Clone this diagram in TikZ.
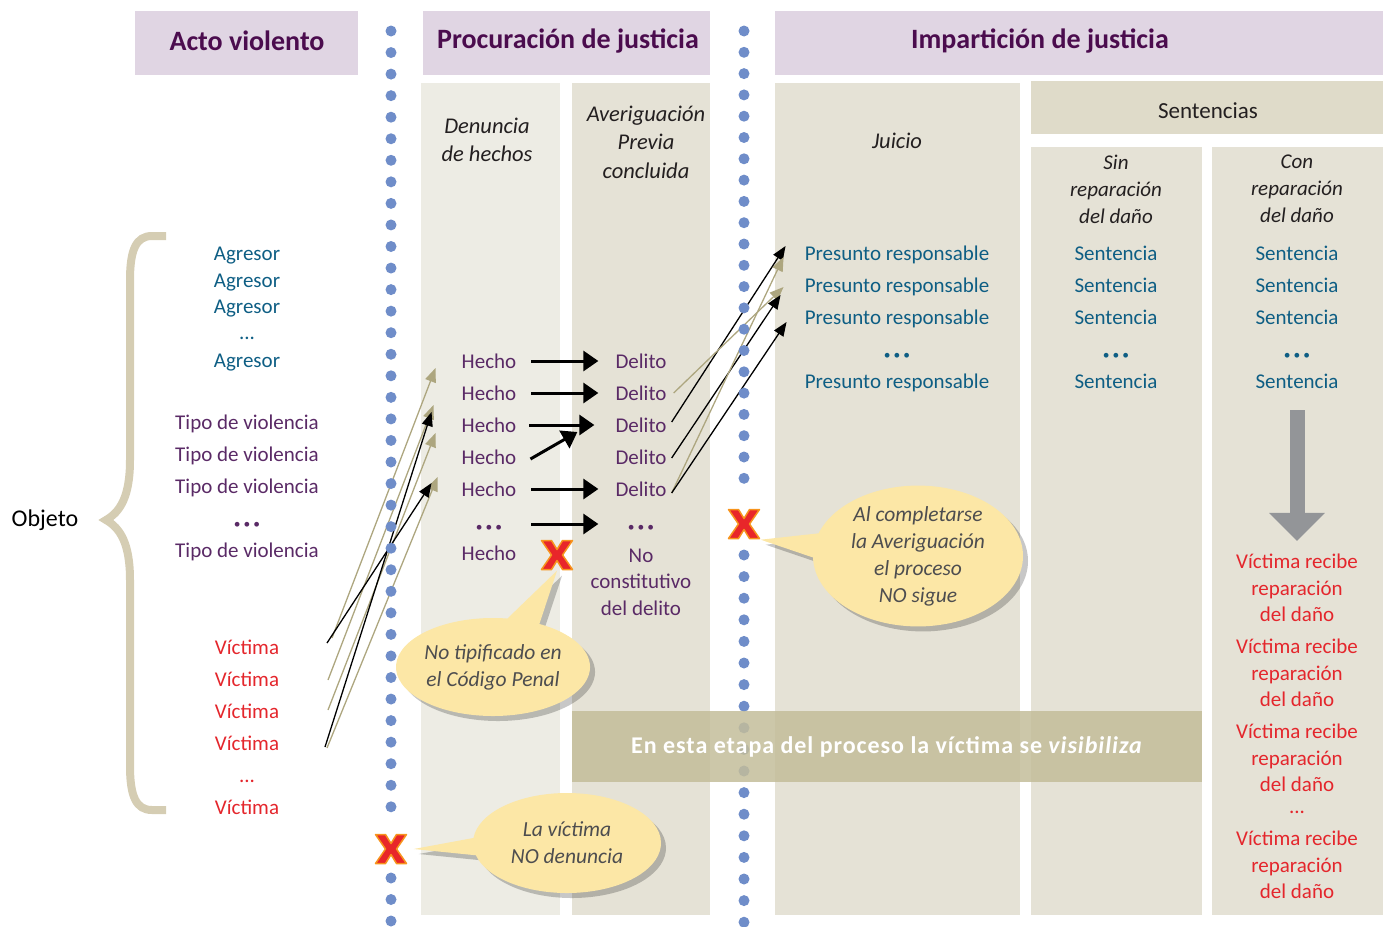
\documentclass[tikz,border=0pt]{standalone}
\usepackage{fontspec}
\setmainfont{Carlito}
\usetikzlibrary{arrows.meta,positioning,shapes.callouts,shadows}

\definecolor{headfill}{HTML}{E0D5E3}
\definecolor{headtext}{HTML}{4B0C4E}
\definecolor{denfill}{HTML}{EDECE4}
\definecolor{colfill}{HTML}{E5E2D6}
\definecolor{sentfill}{HTML}{DFDBC9}
\definecolor{dotblue}{HTML}{6F8DC9}
\definecolor{capgray}{HTML}{231F20}
\definecolor{agteal}{HTML}{0E5E84}
\definecolor{tipopurple}{HTML}{5A2A66}
\definecolor{vicred}{HTML}{E4262C}
\definecolor{tanline}{HTML}{ADA67F}
\definecolor{bracetan}{HTML}{D5CDB3}
\definecolor{bubblefill}{HTML}{FCE7A6}
\definecolor{bubbletext}{HTML}{4D4D4F}
\definecolor{bandfill}{HTML}{C3BD9A}
\definecolor{arrowgray}{HTML}{939598}
\definecolor{xred}{HTML}{E8262A}
\definecolor{xorange}{HTML}{F7941D}

\begin{document}
\begin{tikzpicture}[x=1pt, y=-1pt,
  headtxt/.style={font=\fontsize{28}{32}\selectfont\bfseries, text=headtext, inner sep=0pt},
  coltxt/.style={font=\fontsize{22.5}{28.5}\selectfont\itshape, text=capgray, align=center, inner sep=0pt},
  listtxt/.style={font=\fontsize{21}{26}\selectfont, inner sep=0pt, text height=16pt, text depth=2pt},
  agr/.style={listtxt, text=agteal},
  tipo/.style={listtxt, text=tipopurple},
  vic/.style={listtxt, text=vicred},
  dotrow/.style={font=\fontsize{13.5}{13.5}\selectfont, inner sep=0pt, text height=16pt, text depth=2pt},
  vrtxt/.style={font=\fontsize{21}{26.5}\selectfont, text=vicred, align=center, inner sep=0pt},
  pasoarrow/.style={line width=3pt, -{Triangle[length=15pt,width=20pt]}},
  linkblack/.style={line width=1.3pt, -{Triangle[length=14pt,width=11pt]}},
  linktan/.style={draw=tanline, line width=1.3pt, -{Triangle[length=14pt,width=11pt]}},
  grayarrow/.style={draw=arrowgray, line width=15pt, -{Triangle[length=28pt,width=54pt]}},
  xmark/.style={minimum width=33pt, minimum height=31pt, inner sep=0pt,
    path picture={\begin{scope}[shift={(path picture bounding box.center)}, x=1pt, y=1pt]
      \filldraw[fill=xred, draw=xorange, line width=1.5pt, line join=round]
        (-15.5,14.5) -- (-5.5,14.5) -- (0,5.5) -- (5.5,14.5) -- (15.5,14.5) -- (5.5,0) -- (15.5,-14.5) -- (5.5,-14.5)
        -- (0,-5.5) -- (-5.5,-14.5) -- (-15.5,-14.5) -- (-5.5,0) -- cycle;
    \end{scope}}},
  bubble/.style={ellipse callout, fill=bubblefill, font=\fontsize{21.5}{27}\selectfont\itshape,
    text=bubbletext, align=center, inner sep=0pt, callout pointer arc=20,
    drop shadow={shadow xshift=5pt, shadow yshift=-5pt, opacity=0.22, fill=black}}]
\useasboundingbox (0,0) rectangle (1388,926);
% Stage headers
\fill[headfill] (135,11) rectangle (358,75);
\fill[headfill] (423,11) rectangle (710,75);
\fill[headfill] (775,11) rectangle (1383,75);
\node[headtxt] (acto) at (247,41) {Acto violento};
\node[headtxt] (procu) at (568,41) {Procuración de justicia};
\node[headtxt] (impar) at (1040,41) {Impartición de justicia};
% Columns
\fill[denfill] (421,83) rectangle (560,915);
\fill[colfill] (572,83) rectangle (710,915);
\fill[colfill] (775,83) rectangle (1020,915);
\fill[sentfill] (1031,81) rectangle (1383,134);
\fill[colfill] (1031,147) rectangle (1202,915);
\fill[colfill] (1212,147) rectangle (1383,915);
\node[coltxt] (denun) at (487,140) {Denuncia\\de hechos};
\node[coltxt] (averi) at (646,142) {Averiguación\\Previa\\concluida};
\node[coltxt] (juicio) at (897,141) {Juicio};
\node[font=\fontsize{23}{28}\selectfont, text=capgray, inner sep=0pt] (senten) at (1208,111) {Sentencias};
\node[coltxt, font=\fontsize{21}{27}\selectfont\itshape] (sinrep) at (1116,189) {Sin\\reparación\\del daño};
\node[coltxt, font=\fontsize{21}{27}\selectfont\itshape] (conrep) at (1297,189) {Con\\reparación\\del daño};
% Objeto and brace
\node[font=\fontsize{24}{28}\selectfont, inner sep=0pt] (objeto) at (45,520) {Objeto};
\draw[bracetan, line width=8pt] (166,236) -- (152,236) .. controls (136,236) and (130,250) .. (130,280)
  -- (130,460) .. controls (130,497) and (120,512) .. (106,520) .. controls (120,528) and (130,543) .. (130,580)
  -- (130,766) .. controls (130,796) and (136,810) .. (152,810) -- (166,810);
% Acto violento lists
\node[agr] (ag1) at (247,253) {Agresor};
\node[agr] (ag2) at (247,280) {Agresor};
\node[agr] (ag3) at (247,306) {Agresor};
\node[agr] (agd) at (247,332) {...};
\node[agr] (ag4) at (247,360) {Agresor};
\node[tipo] (tv1) at (247,422) {Tipo de violencia};
\node[tipo] (tv2) at (247,454) {Tipo de violencia};
\node[tipo] (tv3) at (247,486) {Tipo de violencia};
\node[dotrow, text=tipopurple] (tvd) at (247,521) {•\ •\ •};
\node[tipo] (tv4) at (247,550) {Tipo de violencia};
\node[vic] (vi1) at (247,647) {Víctima};
\node[vic] (vi2) at (247,679) {Víctima};
\node[vic] (vi3) at (247,711) {Víctima};
\node[vic] (vi4) at (247,743) {Víctima};
\node[vic] (vid) at (247,775) {...};
\node[vic] (vi5) at (247,807) {Víctima};
% Hechos and delitos
\node[tipo] (he1) at (489,361) {Hecho};
\node[tipo] (he2) at (489,393) {Hecho};
\node[tipo] (he3) at (489,425) {Hecho};
\node[tipo] (he4) at (489,457) {Hecho};
\node[tipo] (he5) at (489,489) {Hecho};
\node[dotrow, text=tipopurple] (hed) at (489,524) {•\ •\ •};
\node[tipo] (he6) at (489,553) {Hecho};
\node[tipo] (de1) at (641,361) {Delito};
\node[tipo] (de2) at (641,393) {Delito};
\node[tipo] (de3) at (641,425) {Delito};
\node[tipo] (de4) at (641,457) {Delito};
\node[tipo] (de5) at (641,489) {Delito};
\node[dotrow, text=tipopurple] (ded) at (641,524) {•\ •\ •};
\node[font=\fontsize{21}{26.5}\selectfont, text=tipopurple, align=center, inner sep=0pt] (deno) at (641,582) {No\\constitutivo\\del delito};
\draw[pasoarrow, shorten <=15pt, shorten >=17pt] (he1.east) -- (de1.west);
\draw[pasoarrow, shorten <=15pt, shorten >=17pt] (he2.east) -- (de2.west);
\draw[pasoarrow, shorten <=13pt, shorten >=21pt] (he3.east) -- (de3.west);
\draw[pasoarrow] ([xshift=14pt,yshift=-2pt]he4.east) -- ([xshift=-38pt,yshift=-7pt]de3.west);
\draw[pasoarrow, shorten <=15pt, shorten >=17pt] (he5.east) -- (de5.west);
\draw[pasoarrow, shorten <=15pt, shorten >=17pt] (he5.east |- hed) -- (de5.west |- ded);
% Presuntos responsables and sentencias
\node[agr] (pr1) at (897,253) {Presunto responsable};
\node[agr] (pr2) at (897,285) {Presunto responsable};
\node[agr] (pr3) at (897,317) {Presunto responsable};
\node[dotrow, text=agteal] (prd) at (897,352) {•\ •\ •};
\node[agr] (pr4) at (897,381) {Presunto responsable};
\node[agr] (si1) at (1116,253) {Sentencia};
\node[agr] (si2) at (1116,285) {Sentencia};
\node[agr] (si3) at (1116,317) {Sentencia};
\node[dotrow, text=agteal] (sid) at (1116,352) {•\ •\ •};
\node[agr] (si4) at (1116,381) {Sentencia};
\node[agr] (co1) at (1297,253) {Sentencia};
\node[agr] (co2) at (1297,285) {Sentencia};
\node[agr] (co3) at (1297,317) {Sentencia};
\node[dotrow, text=agteal] (cod) at (1297,352) {•\ •\ •};
\node[agr] (co4) at (1297,381) {Sentencia};
\node[vrtxt] (vr1) at (1297,588) {Víctima recibe\\reparación\\del daño};
\node[vrtxt] (vr2) at (1297,673) {Víctima recibe\\reparación\\del daño};
\node[vrtxt] (vr3) at (1297,758) {Víctima recibe\\reparación\\del daño};
\node[vic] (vrd) at (1297,806) {...};
\node[vrtxt] (vr4) at (1297,865) {Víctima recibe\\reparación\\del daño};
\draw[grayarrow, shorten <=20pt, shorten >=13pt] (co4.south) -- (vr1.north);
% Victima to hecho links
\coordinate (vt1) at (332,638);
\coordinate (vt2) at (327,643);
\coordinate (vt3) at (328,680);
\coordinate (vt4) at (328,710);
\coordinate (vt5) at (325,747);
\coordinate (vt6) at (327,748);
\draw[linktan] (vt1) -- ([xshift=-26pt,yshift=-7pt]he1.west);
\draw[linktan] (vt3) -- ([xshift=-28pt,yshift=-12pt]he2.west);
\draw[linktan] (vt4) -- ([xshift=-26pt,yshift=-8pt]he3.west);
\draw[linktan] (vt6) -- ([xshift=-24pt,yshift=12pt]he5.west);
\draw[linkblack] (vt2) -- ([xshift=-30pt,yshift=6pt]he5.west);
\draw[linkblack] (vt5) -- ([xshift=-30pt,yshift=-19pt]he2.west);
% Delito to presunto responsable links
\draw[linkblack] ([xshift=5pt,yshift=3pt]de3.east) -- ([xshift=-19pt,yshift=7pt]pr1.west);
\draw[linktan] ([xshift=7pt]de2.east) -- ([xshift=-21pt,yshift=-2pt]pr2.west);
\draw[linkblack] ([xshift=5pt,yshift=-1pt]de4.east) -- ([xshift=-24pt,yshift=-10pt]pr2.west);
\draw[linktan] ([xshift=5pt,yshift=-4pt]de5.east) -- ([xshift=-21pt,yshift=-4pt]pr1.west);
\draw[linkblack] ([xshift=5pt,yshift=-4pt]de5.east) -- ([xshift=-18pt,yshift=-5pt]pr3.west);
% Dotted stage separators
\foreach \k in {0,...,36} \fill[dotblue] (391,31+21.55*\k) circle (5.5pt);
\foreach \k in {0,...,2} \fill[dotblue] (391,878+21.5*\k) circle (5.5pt);
\foreach \k in {0,...,21} \fill[dotblue] (744,31+21.3*\k) circle (5.5pt);
\foreach \k in {0,...,17} \fill[dotblue] (744,555+21.6*\k) circle (5.5pt);
% Visibility band
\fill[bandfill, fill opacity=0.85] (572,711) rectangle (1202,782);
\node[font=\fontsize{24}{28}\selectfont\bfseries\addfontfeatures{LetterSpace=4}, text=white, inner sep=0pt] (banda) at (887,747)
  {En esta etapa del proceso la víctima se \textit{visibiliza}};
% Break points and callouts
\node[xmark] (x1) at (391,849) {};
\node[xmark] (x2) at (557,555) {};
\node[xmark] (x3) at (744,524) {};
\node[bubble, minimum width=190pt, minimum height=98pt, callout absolute pointer={(x2.south)}] (bub1) at (493,667) {No tipificado en\\el Código Penal};
\node[bubble, minimum width=188pt, minimum height=100pt, callout absolute pointer={([xshift=6pt]x1.east)}] (bub2) at (567,843) {La víctima\\NO denuncia};
\node[bubble, minimum width=210pt, minimum height=124pt, callout absolute pointer={(x3.south east)}] (bub3) at (918,556) {Al completarse\\la Averiguación\\el proceso\\NO sigue};
\end{tikzpicture}
\end{document}
